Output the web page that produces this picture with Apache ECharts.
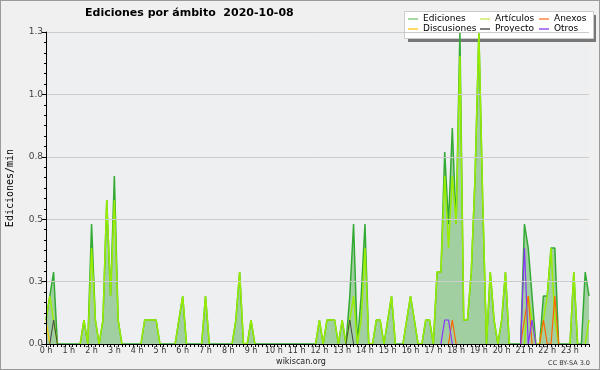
<!DOCTYPE html>
<html>
<head>
<meta charset="utf-8">
<script src="https://cdn.jsdelivr.net/npm/echarts@6/dist/echarts.min.js"></script>
<style>
html,body{margin:0;padding:0;background:#f0f0f0;}
#c{width:600px;height:370px;box-sizing:border-box;border:1px solid #9a9a9a;}
</style>
</head>
<body>
<div id="c"></div>
<script>
// hour tick labels (one every 6 bins of 10 minutes)
const hourLabels = ['0 h','1 h','2 h','3 h','4 h','5 h','6 h','7 h','8 h','9 h','10 h','11 h',
  '12 h','13 h','14 h','15 h','16 h','17 h','18 h','19 h','20 h','21 h','22 h','23 h'];
// categories: 10-minute bins
const times = [];
for (let h = 0; h < 24; h++) for (let m = 0; m < 60; m += 10) times.push(h + ':' + (m < 10 ? '0' : '') + m);

// Ediciones/min per 10-minute bin (12 values per row = 2 hours)
const ediciones = [
  0.1,0.2,0.3,0,0,0,0,0,0,0,0.1,0,
  0.5,0.1,0,0.1,0.6,0.2,0.7,0.1,0,0,0,0,
  0,0,0.1,0.1,0.1,0.1,0,0,0,0,0,0.1,
  0.2,0,0,0,0,0,0.2,0,0,0,0,0,
  0,0,0.1,0.3,0,0,0.1,0,0,0,0,0,
  0,0,0,0,0,0,0,0,0,0,0,0,
  0.1,0,0.1,0.1,0.1,0,0.1,0,0.2,0.5,0,0.2,
  0.5,0,0,0.1,0.1,0,0.1,0.2,0,0,0,0.1,
  0.2,0.1,0,0,0.1,0.1,0,0.3,0.3,0.8,0.5,0.9,
  0.5,1.3,0.1,0.1,0.3,0.7,1.3,0.6,0,0.3,0.1,0,
  0.1,0.3,0,0,0,0,0.5,0.4,0.2,0,0,0.2,
  0.2,0.4,0.4,0,0,0,0,0.3,0,0,0.3,0.2
];
const articulos = [
  0.1,0.2,0.1,0,0,0,0,0,0,0,0.1,0,
  0.4,0.1,0,0.1,0.6,0.2,0.6,0.1,0,0,0,0,
  0,0,0.1,0.1,0.1,0.1,0,0,0,0,0,0.1,
  0.2,0,0,0,0,0,0.2,0,0,0,0,0,
  0,0,0.1,0.3,0,0,0.1,0,0,0,0,0,
  0,0,0,0,0,0,0,0,0,0,0,0,
  0.1,0,0.1,0.1,0.1,0,0.1,0,0.1,0.2,0,0.1,
  0.4,0,0,0.1,0.1,0,0.1,0.2,0,0,0,0.1,
  0.2,0.1,0,0,0.1,0.1,0,0.3,0.3,0.7,0.4,0.7,
  0.5,1.2,0.1,0.1,0.3,0.7,1.3,0.6,0,0.3,0.1,0,
  0.1,0.3,0,0,0,0,0,0.2,0.1,0,0,0.1,
  0.2,0.4,0.1,0,0,0,0,0.3,0,0,0,0.1
];
const discusiones = [
  0.1,0,0,0,0,0,0,0,0,0,0,0,
  0,0,0,0,0,0,0,0,0,0,0,0,
  0,0,0,0,0,0,0,0,0,0,0,0,
  0,0,0,0,0,0,0,0,0,0,0,0,
  0,0,0,0,0,0,0,0,0,0,0,0,
  0,0,0,0,0,0,0,0,0,0,0,0,
  0,0,0,0,0,0,0,0,0,0,0,0,
  0,0,0,0,0,0,0,0,0,0,0,0,
  0,0,0,0,0,0,0,0,0,0,0,0,
  0,0,0,0,0,0,0,0,0,0,0,0,
  0,0,0,0,0,0,0,0,0,0,0,0,
  0,0,0,0,0,0,0,0,0,0,0,0
];
const proyecto = [
  0,0,0.1,0,0,0,0,0,0,0,0,0,
  0,0,0,0,0,0,0,0,0,0,0,0,
  0,0,0,0,0,0,0,0,0,0,0,0,
  0,0,0,0,0,0,0,0,0,0,0,0,
  0,0,0,0,0,0,0,0,0,0,0,0,
  0,0,0,0,0,0,0,0,0,0,0,0,
  0,0,0,0,0,0,0,0,0.1,0,0,0,
  0,0,0,0,0,0,0,0,0,0,0,0,
  0,0,0,0,0,0,0,0,0,0,0,0,
  0,0,0,0,0,0,0,0,0,0,0,0,
  0,0,0,0,0,0,0,0,0,0,0,0,
  0,0,0,0,0,0,0,0,0,0,0,0
];
const anexos = [
  0,0,0,0,0,0,0,0,0,0,0,0,
  0,0,0,0,0,0,0,0,0,0,0,0,
  0,0,0,0,0,0,0,0,0,0,0,0,
  0,0,0,0,0,0,0,0,0,0,0,0,
  0,0,0,0,0,0,0,0,0,0,0,0,
  0,0,0,0,0,0,0,0,0,0,0,0,
  0,0,0,0,0,0,0,0,0,0,0,0,
  0,0,0,0,0,0,0,0,0,0,0,0,
  0,0,0,0,0,0,0,0,0,0,0,0.1,
  0,0,0,0,0,0,0,0,0,0,0,0,
  0,0,0,0,0,0,0.1,0.2,0,0,0,0.1,
  0,0,0.2,0,0,0,0,0,0,0,0,0
];
const otros = [
  0,0,0,0,0,0,0,0,0,0,0,0,
  0,0,0,0,0,0,0,0,0,0,0,0,
  0,0,0,0,0,0,0,0,0,0,0,0,
  0,0,0,0,0,0,0,0,0,0,0,0,
  0,0,0,0,0,0,0,0,0,0,0,0,
  0,0,0,0,0,0,0,0,0,0,0,0,
  0,0,0,0,0,0,0,0,0,0,0,0,
  0,0,0,0,0,0,0,0,0,0,0,0,
  0,0,0,0,0,0,0,0,0,0.1,0.1,0,
  0,0,0,0,0,0,0,0,0,0,0,0,
  0,0,0,0,0,0,0.4,0,0.1,0,0,0,
  0,0,0,0,0,0,0,0,0,0,0,0
];

// hide runs of zeros (line only drawn where it leaves the baseline)
function trimZeros(arr) {
  return arr.map(function (v, i) {
    if (v !== 0) return v;
    const p = i > 0 ? arr[i - 1] : 0, n = i < arr.length - 1 ? arr[i + 1] : 0;
    return (p !== 0 || n !== 0) ? 0 : '-';
  });
}

const chart = echarts.init(document.getElementById('c'), null, {renderer: 'canvas'});
const font = 'DejaVu Sans';
function lineSeries(name, data, color, width, z, extra) {
  return Object.assign({
    name: name, type: 'line', data: data, symbol: 'none', z: z,
    lineStyle: {color: color, width: width}, itemStyle: {color: color},
    emphasis: {disabled: true}, animation: false, connectNulls: false
  }, extra || {});
}
function legendCol(left, items) {
  return {
    orient: 'vertical', left: left, top: 13, padding: 0, itemGap: 0, z: 20,
    itemWidth: 10, itemHeight: 1.5, icon: 'rect', selectedMode: false,
    textStyle: {fontFamily: font, fontSize: 9, color: '#000', lineHeight: 10},
    itemStyle: {borderWidth: 0},
    data: items
  };
}
chart.setOption({
  backgroundColor: '#f0f0f0',
  animation: false,
  grid: {left: 45, right: 10, top: 31, bottom: 25, show: true, backgroundColor: '#eeeff1', borderWidth: 0,
    containLabel: false, outerBoundsMode: 'none'},
  graphic: [
    {type: 'text', left: 84, top: 7, z: 10, style: {text: 'Ediciones por ámbito  2020-10-08', font: 'bold 11px "DejaVu Sans"', fill: '#000'}},
    {type: 'rect', shape: {x: 407, y: 14, width: 188, height: 27}, style: {fill: '#777'}, z: 1},
    {type: 'rect', shape: {x: 403.5, y: 10.5, width: 189, height: 27}, style: {fill: '#fff', stroke: '#ccc', lineWidth: 1}, z: 2},
    {type: 'text', x: 300, y: 361, z: 10, style: {text: 'wikiscan.org', font: '8px "DejaVu Sans"', fill: '#222', align: 'center', verticalAlign: 'middle'}},
    {type: 'text', x: 589, y: 362, z: 10, style: {text: 'CC BY-SA 3.0', font: '6.5px "DejaVu Sans"', fill: '#333', align: 'right', verticalAlign: 'middle'}}
  ],
  legend: [
    legendCol(407, [{name: 'Ediciones', itemStyle: {color: '#88cc88'}}, {name: 'Discusiones', itemStyle: {color: '#ffcc33'}}]),
    legendCol(479, [{name: 'Artículos', itemStyle: {color: '#ccee66'}}, {name: 'Proyecto', itemStyle: {color: '#555555'}}]),
    legendCol(538, [{name: 'Anexos', itemStyle: {color: '#ff8844'}}, {name: 'Otros', itemStyle: {color: '#9955ee'}}])
  ],
  xAxis: {
    type: 'category', data: times, boundaryGap: false, z: 30,
    axisLine: {lineStyle: {color: '#000', width: 1}},
    axisTick: {show: true, interval: 0, length: 3, lineStyle: {color: '#000'}},
    axisLabel: {interval: 0, margin: 3, fontFamily: font, fontSize: 8, color: '#333',
      formatter: function (v, i) { return i % 6 === 0 ? hourLabels[i / 6] : ''; }},
    splitLine: {show: false}
  },
  yAxis: {
    type: 'value', min: 0, max: 1.3, interval: 0.26, z: 30,
    name: 'Ediciones/min', nameLocation: 'middle', nameGap: 31, nameRotate: 90,
    nameTextStyle: {fontFamily: 'DejaVu Sans Mono', fontSize: 10, color: '#000'},
    axisLine: {show: true, lineStyle: {color: '#000', width: 1}},
    axisTick: {show: true, length: 4, lineStyle: {color: '#000'}},
    minorTick: {show: true, splitNumber: 6, length: 2, lineStyle: {color: '#000'}},
    axisLabel: {margin: 3, fontFamily: font, fontSize: 9, color: '#444',
      formatter: function (v) { return v.toFixed(1); }},
    splitLine: {show: true, lineStyle: {color: '#cccccc', width: 1}}
  },
  series: [
    lineSeries('Ediciones', ediciones, '#33aa33', 1.5, 2, {areaStyle: {color: '#a2cfa2', opacity: 1}}),
    lineSeries('Artículos', trimZeros(articulos), '#99ee00', 1.5, 3),
    lineSeries('Discusiones', trimZeros(discusiones), '#ffcc00', 1.2, 4),
    lineSeries('Proyecto', trimZeros(proyecto), '#444444', 1, 5),
    lineSeries('Anexos', trimZeros(anexos), '#ff6600', 1.2, 6),
    lineSeries('Otros', trimZeros(otros), '#8833ff', 1.2, 7)
  ]
});
</script>
</body>
</html>
